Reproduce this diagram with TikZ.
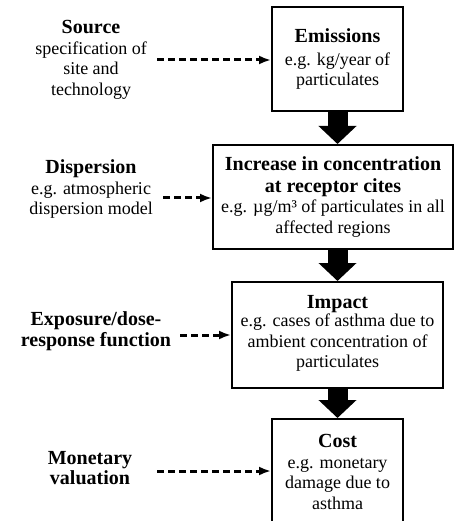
\documentclass[tikz,border=0pt]{standalone}
\usepackage{fontspec}
\setmainfont{Liberation Serif}
\usetikzlibrary{arrows.meta}
\newcommand\hd[1]{{\fontsize{20}{22}\selectfont\bfseries #1}}
\tikzset{
  box/.style={draw, line width=2pt, align=center, font=\fontsize{18}{20.5}\selectfont, inner sep=2pt},
  lab/.style={align=center, font=\fontsize{18}{20.5}\selectfont, inner sep=0pt},
  flow/.style={line width=20pt, -{Triangle[width=37pt,length=18pt]}},
  dasharrow/.style={line width=3pt, dash pattern=on 7pt off 4pt, -{Latex[length=12pt,width=9pt]}},
}
\begin{document}
\begin{tikzpicture}[x=1pt,y=-1pt]
\clip (0,0) rectangle (461,521);
\fill[white] (0,0) rectangle (461,521);

% boxes
\node[box, minimum width=131pt, minimum height=104pt] (em) at (337.5,59)
  {\hd{Emissions}\\[2pt]e.g. kg/year of\\particulates};
\node[box, minimum width=240pt, minimum height=104pt] (conc) at (333,197)
  {\hd{Increase in concentration}\\[1pt]\hd{at receptor cites}\\e.g. µg/m³ of particulates in all\\affected regions};
\node[box, minimum width=211pt, minimum height=106pt] (imp) at (337.5,335)
  {\hd{Impact}\\[-2pt]e.g. cases of asthma due to\\ambient concentration of\\particulates\\[-13pt]};
\node[box, minimum width=131pt, minimum height=106pt] (cost) at (337.5,472)
  {\hd{Cost}\\e.g. monetary\\damage due to\\asthma};

% left labels
\node[lab] (src) at (91,60) {\hd{Source}\\specification of\\site and\\technology};
\node[lab] (disp) at (91,189) {\hd{Dispersion}\\e.g. atmospheric\\dispersion model};
\node[lab] (expo) at (96,331) {\hd{Exposure/dose-}\\\hd{response function}};
\node[lab] (mon) at (90,468) {\hd{Monetary}\\\hd{valuation}};

% thick flow arrows
\draw[flow] (em.south) -- (em.south |- conc.north);
\draw[flow] (em.south |- conc.south) -- (em.south |- imp.north);
\draw[flow] (imp.south) -- (cost.north);

% dashed input arrows
\draw[dasharrow] (157,60) -- (em.west |- 0,60);
\draw[dasharrow] (163,198) -- (conc.west |- 0,198);
\draw[dasharrow] (180,335) -- (imp.west |- 0,335);
\draw[dasharrow] (157,471) -- (cost.west |- 0,471);
\end{tikzpicture}
\end{document}
